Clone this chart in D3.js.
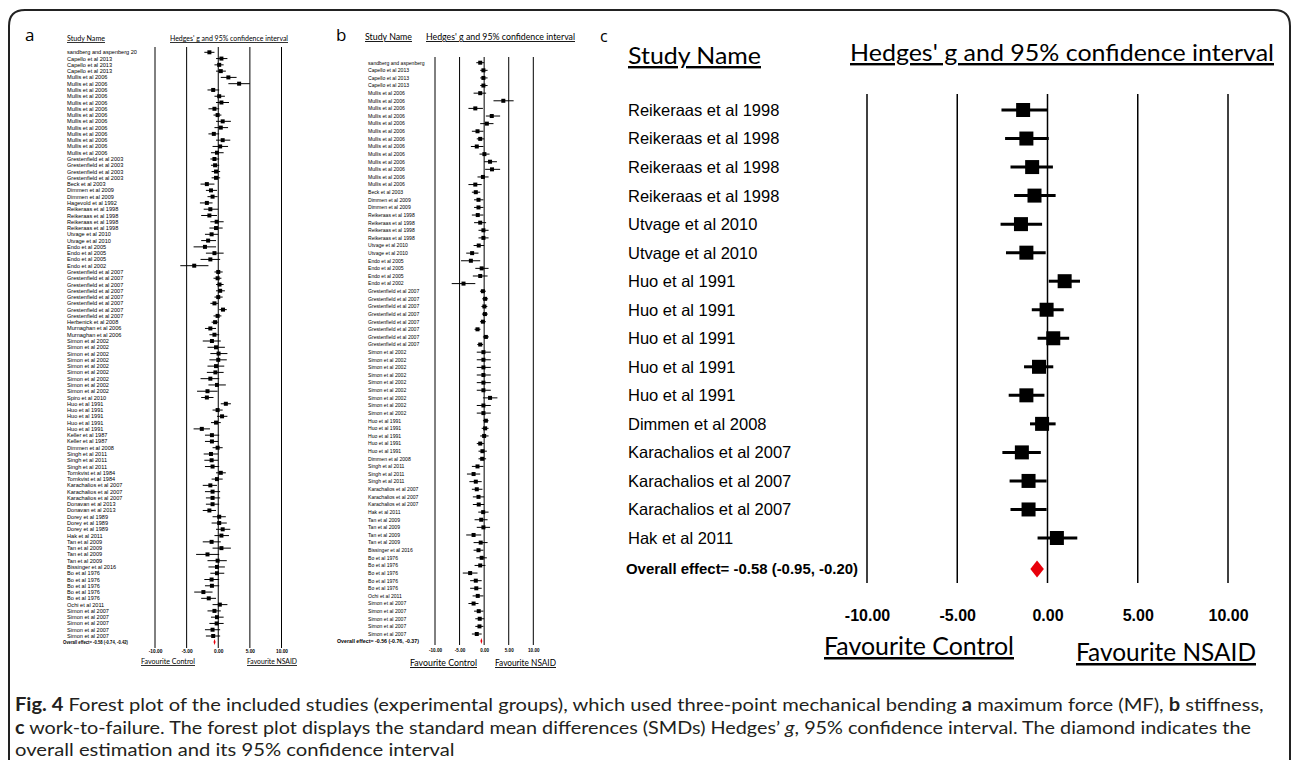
<!DOCTYPE html>
<html>
<head>
<meta charset="utf-8">
<script src="https://cdn.jsdelivr.net/npm/d3@7"></script>
<style>
  body { margin: 0; background: #fff; }
  svg { display: block; }
</style>
</head>
<body>
<div id="fig"></div>
<script>

// ---- shared axis ticks ----
var tickValues = [-10, -5, 0, 5, 10];

// ---- panel a: maximum force ----
var aNames = [
  "sandberg and aspenberg 20",
  "Capello et al 2013", "Capello et al 2013", "Capello et al 2013",
  "Mullis et al 2006", "Mullis et al 2006", "Mullis et al 2006", "Mullis et al 2006", "Mullis et al 2006",
  "Mullis et al 2006", "Mullis et al 2006", "Mullis et al 2006", "Mullis et al 2006", "Mullis et al 2006",
  "Mullis et al 2006", "Mullis et al 2006", "Mullis et al 2006",
  "Grestenfield et al 2003", "Grestenfield et al 2003", "Grestenfield et al 2003", "Grestenfield et al 2003",
  "Beck et al 2003", "Dimmen et al 2009", "Dimmen et al 2009", "Hagevold et al 1992",
  "Reikeraas et al 1998", "Reikeraas et al 1998", "Reikeraas et al 1998", "Reikeraas et al 1998",
  "Utvage et al 2010", "Utvage et al 2010",
  "Endo et al 2005", "Endo et al 2005", "Endo et al 2005", "Endo et al 2002",
  "Grestenfield et al 2007", "Grestenfield et al 2007", "Grestenfield et al 2007", "Grestenfield et al 2007",
  "Grestenfield et al 2007", "Grestenfield et al 2007", "Grestenfield et al 2007", "Grestenfield et al 2007",
  "Herbenick et al 2008", "Murnaghan et al 2006", "Murnaghan et al 2006",
  "Simon et al 2002", "Simon et al 2002", "Simon et al 2002", "Simon et al 2002", "Simon et al 2002",
  "Simon et al 2002", "Simon et al 2002", "Simon et al 2002", "Simon et al 2002",
  "Spiro et al 2010",
  "Huo et al 1991", "Huo et al 1991", "Huo et al 1991", "Huo et al 1991", "Huo et al 1991",
  "Keller et al 1987", "Keller et al 1987", "Dimmen et al 2008",
  "Singh et al 2011", "Singh et al 2011", "Singh et al 2011",
  "Tornkvist et al 1984", "Tornkvist et al 1984",
  "Karachalios et al 2007", "Karachalios et al 2007", "Karachalios et al 2007",
  "Donavan et al 2013", "Donavan et al 2013",
  "Dorey et al 1989", "Dorey et al 1989", "Dorey et al 1989", "Hak et al 2011",
  "Tan et al 2009", "Tan et al 2009", "Tan et al 2009", "Tan et al 2009", "Bissinger et al 2016",
  "Bo et al 1976", "Bo et al 1976", "Bo et al 1976", "Bo et al 1976", "Bo et al 1976",
  "Ochi et al 2011",
  "Simon et al 2007", "Simon et al 2007", "Simon et al 2007", "Simon et al 2007", "Simon et al 2007"
];
var aEst = [
  -1.4, 0.5, 0.15, 0.4, 1.6, 3.3, -0.8, 0.15, 0.5, -0.6, -0.1, 0.7, 0.4, -0.7, 0.7, 0.3, -0.2,
  -0.6, -0.5, -0.35, -0.35, -1.8, -1.15, -0.9, -1.8, -1.25, -1.4, -0.25, -0.35, -1.05, -1.6, -2.1, -0.6, -1.25, -3.8,
  0, -0.1, 0.2, 0.3, 0, -0.6, 0.75, -0.1, -0.5, -1.25, -0.6,
  -1.0, -0.35, 0.05, 0, -0.35, -0.45, -1.25, -0.2, -1.7, -1.8,
  1.2, -0.1, 0.6, -0.35, -2.6, -1.0, -1.0, -0.1, -1.15, -1.05, -0.9, 0.4, -0.2, -1.25, -0.9, -0.9, -0.9, -1.4,
  0.15, 0.15, 0.7, 0.5, -1.05, 0.5, -1.7, -0.1, -0.2, -0.2, -1.05, -1.0, -2.35, -1.5, 0.25, -0.6, -0.2, -0.25, -0.9, -0.8
];
var aLow = [
  -2.2, -0.35, -0.6, -0.35, 0.4, 1.6, -1.7, -0.6, -0.35, -1.55, -0.75, -0.35, -0.6, -1.55, -0.35, -0.9, -1.15,
  -1.25, -1.15, -1.05, -1.05, -2.8, -1.95, -1.7, -2.9, -2.3, -2.7, -1.25, -1.4, -2.1, -2.7, -3.9, -1.95, -2.8, -6.0,
  -0.6, -0.75, -0.35, -0.35, -0.6, -1.25, 0.15, -0.75, -1.05, -2.1, -1.4,
  -2.45, -1.7, -1.25, -1.4, -1.7, -1.8, -2.8, -1.55, -3.35, -2.7,
  0.4, -0.9, -0.2, -1.15, -3.9, -2.1, -2.1, -0.9, -2.3, -2.2, -2.1, -0.35, -1.05, -2.45, -2.1, -1.95, -1.95, -2.45,
  -0.9, -1.05, -0.35, -0.6, -2.45, -0.9, -3.5, -1.7, -1.55, -1.25, -2.2, -2.1, -3.8, -2.7, -0.9, -1.7, -1.15, -1.4, -2.1, -1.95
];
var aHigh = [
  -0.6, 1.45, 0.85, 1.2, 2.9, 5.0, 0.15, 1.05, 1.7, 0.15, 0.5, 2.0, 1.55, 0.15, 1.9, 1.55, 0.85,
  0.15, 0.15, 0.3, 0.3, -0.6, -0.2, -0.1, -0.9, 0, -0.2, 0.85, 0.7, 0, -0.35, -0.35, 0.85, 0.3, -1.55,
  0.7, 0.5, 0.85, 1.05, 0.7, 0, 1.35, 0.5, 0, -0.35, 0.15,
  0.4, 1.05, 1.45, 1.35, 0.95, 0.85, 0.15, 1.2, -0.1, -0.75,
  2.0, 0.7, 1.45, 0.4, -1.3, 0.15, 0, 0.7, 0, 0, 0.15, 1.2, 0.7, -0.2, 0.3, 0.3, 0.15, -0.35,
  1.2, 1.35, 1.9, 1.7, 0.4, 2.0, 0.15, 1.35, 1.05, 0.95, 0.15, 0.15, -0.9, -0.35, 1.45, 0.4, 0.85, 0.85, 0.3, 0.3
];
var aOverall = [-0.58, -0.74, -0.42];

// ---- panel b: stiffness ----
var bNames = [
  "sandberg and aspenberg",
  "Capello et al 2013", "Capello et al 2013", "Capello et al 2013",
  "Mullis et al 2006", "Mullis et al 2006", "Mullis et al 2006", "Mullis et al 2006", "Mullis et al 2006",
  "Mullis et al 2006", "Mullis et al 2006", "Mullis et al 2006", "Mullis et al 2006", "Mullis et al 2006",
  "Mullis et al 2006", "Mullis et al 2006", "Mullis et al 2006",
  "Beck et al 2003", "Dimmen et al 2009", "Dimmen et al 2009",
  "Reikeraas et al 1998", "Reikeraas et al 1998", "Reikeraas et al 1998", "Reikeraas et al 1998",
  "Utvage et al 2010", "Utvage et al 2010",
  "Endo et al 2005", "Endo et al 2005", "Endo et al 2005", "Endo et al 2002",
  "Grestenfield et al 2007", "Grestenfield et al 2007", "Grestenfield et al 2007", "Grestenfield et al 2007",
  "Grestenfield et al 2007", "Grestenfield et al 2007", "Grestenfield et al 2007", "Grestenfield et al 2007",
  "Simon et al 2002", "Simon et al 2002", "Simon et al 2002", "Simon et al 2002", "Simon et al 2002",
  "Simon et al 2002", "Simon et al 2002", "Simon et al 2002", "Simon et al 2002",
  "Huo et al 1991", "Huo et al 1991", "Huo et al 1991", "Huo et al 1991", "Huo et al 1991",
  "Dimmen et al 2008",
  "Singh et al 2011", "Singh et al 2011", "Singh et al 2011",
  "Karachalios et al 2007", "Karachalios et al 2007", "Karachalios et al 2007",
  "Hak et al 2011",
  "Tan et al 2009", "Tan et al 2009", "Tan et al 2009", "Tan et al 2009", "Bissinger et al 2016",
  "Bo et al 1976", "Bo et al 1976", "Bo et al 1976", "Bo et al 1976", "Bo et al 1976",
  "Ochi et al 2011",
  "Simon et al 2007", "Simon et al 2007", "Simon et al 2007", "Simon et al 2007", "Simon et al 2007"
];
var bEst = [
  -0.8, -0.15, -0.15, -0.15,
  -0.8, 3.9, -1.8, 1.55, 0.55, -1.35, -0.8, -1.5, 0.05, 1.2, 1.6, -0.25, -1.8,
  -1.7, -1.15, -1.15, -1.3, -0.8, -0.15, -0.15, -1.1, -2.45, -2.7, -0.5, -0.8, -4.2,
  -0.25, 0.2, 0.05, 0.15, -0.25, -1.35, 0.35, -0.8,
  -0.15, -0.15, -0.15, -0.15, -0.15, -0.15, 1.2, -0.15, -0.15,
  0.35, 0.2, 0, -0.8, -0.35, -0.4, -1.35, -2.15, -1.7, -1.5, -1.15, -1.1, -0.2,
  -0.6, -0.15, -2.15, -0.7, -1.15, -0.5, -0.8, -2.85, -1.7, -1.6, -1.3, -2.15, -1.1, -0.9, -0.95, -1.5
];
var bLow = [
  -1.6, -0.8, -0.8, -0.8,
  -2.15, 1.9, -3.2, 0.35, -0.8, -2.5, -1.5, -2.7, -0.95, 0, 0.2, -1.35, -3.2,
  -2.5, -2.05, -2.05, -2.5, -2.05, -1.15, -1.15, -2.15, -3.65, -4.7, -1.8, -2.3, -6.6,
  -0.85, -0.4, -0.55, -0.45, -0.85, -1.95, -0.25, -1.4,
  -1.5, -1.5, -1.5, -1.5, -1.5, -1.5, -0.25, -1.5, -1.5,
  -0.25, -0.5, -0.8, -1.5, -1.15, -1.15, -2.5, -3.5, -3.0, -2.5, -2.3, -2.3, -1.2,
  -1.95, -1.5, -3.65, -2.15, -2.15, -1.6, -1.95, -4.35, -2.85, -2.85, -2.35, -3.2, -2.05, -1.8, -1.8, -2.5
];
var bHigh = [
  0, 0.7, 0.7, 0.7,
  0.4, 6.0, -0.25, 3.25, 1.9, -0.15, 0, -0.15, 1.1, 2.6, 3.25, 0.9, -0.5,
  -0.8, -0.15, -0.15, -0.15, 0.4, 0.9, 0.9, 0, -1.15, -0.8, 0.9, 0.7, -1.8,
  0.35, 0.8, 0.65, 0.75, 0.35, -0.75, 0.95, -0.2,
  1.35, 1.35, 1.35, 1.35, 1.35, 1.35, 2.7, 1.35, 1.35,
  0.9, 0.9, 0.9, 0, 0.55, 0.4, -0.15, -0.8, -0.5, -0.35, 0, 0, 0.9,
  0.7, 1.2, -0.6, 0.7, -0.15, 0.55, 0.25, -1.35, -0.5, -0.5, -0.15, -1.15, -0.15, 0, -0.15, -0.5
];
var bOverall = [-0.56, -0.76, -0.37];

// ---- panel c: work-to-failure ----
var cNames = [
  "Reikeraas et al 1998", "Reikeraas et al 1998", "Reikeraas et al 1998", "Reikeraas et al 1998",
  "Utvage et al 2010", "Utvage et al 2010",
  "Huo et al 1991", "Huo et al 1991", "Huo et al 1991", "Huo et al 1991", "Huo et al 1991",
  "Dimmen et al 2008",
  "Karachalios et al 2007", "Karachalios et al 2007", "Karachalios et al 2007",
  "Hak et al 2011"
];
var cEst  = [-1.35, -1.17, -0.85, -0.72, -1.47, -1.17, 0.95, -0.05, 0.32, -0.47, -1.17, -0.3, -1.42, -1.05, -1.05, 0.52];
var cLow  = [-2.55, -2.35, -2.05, -1.85, -2.6, -2.3, 0.07, -0.87, -0.55, -1.3, -2.15, -0.97, -2.5, -2.1, -2.05, -0.55];
var cHigh = [0, 0.07, 0.3, 0.45, -0.3, -0.1, 1.8, 0.9, 1.2, 0.32, -0.17, 0.45, -0.37, -0.05, -0.05, 1.65];
var cOverall = [-0.58, -0.95, -0.20];

var svg = d3.select("#fig").append("svg")
    .attr("width", 1292)
    .attr("height", 760);

// frame round the whole figure (bottom edge falls outside the picture)
svg.append("path")
    .attr("d", "M9,790 V26 Q9,10 25,10 H1274 Q1290,10 1290,26 V790")
    .attr("fill", "none")
    .attr("stroke", "#222")
    .attr("stroke-width", 2);

var titleFont = "Lato, 'Open Sans', sans-serif";
var nameFont = "'Liberation Sans', Arial, sans-serif";

function fmt(v) { return v.toFixed(2); }

// place a text and stretch it to a given width
function label(parent, str, x, y, size, width, opts) {
    opts = opts || {};
    var t = parent.append("text")
        .attr("x", x)
        .attr("y", y)
        .style("font-family", opts.family || titleFont)
        .style("font-size", size + "px")
        .style("font-weight", opts.weight || "normal")
        .attr("fill", opts.fill || "#000")
        .text(str);
    if (opts.underline) t.style("text-decoration", "underline");
    if (width) t.attr("textLength", width).attr("lengthAdjust", "spacingAndGlyphs");
    return t;
}

// Draws one forest plot panel
function drawForest(p) {
    var g = svg.append("g");

    var x = d3.scaleLinear()
        .domain([-10, 10])
        .range(p.xRange);

    var y = d3.scalePoint()
        .domain(d3.range(p.names.length))
        .range(p.yRange);

    // reference lines at each tick
    g.selectAll("line.ref")
        .data(tickValues)
        .enter()
        .append("line")
        .attr("x1", function(d) { return x(d); })
        .attr("x2", function(d) { return x(d); })
        .attr("y1", p.lineTop)
        .attr("y2", p.lineBottom)
        .attr("stroke", "#000")
        .attr("stroke-width", p.refWidth);

    // study names
    g.selectAll("text.name")
        .data(p.names)
        .enter()
        .append("text")
        .attr("x", p.nameX)
        .attr("y", function(d, i) { return y(i); })
        .attr("dy", "0.36em")
        .style("font-family", nameFont)
        .style("font-size", p.nameSize + "px")
        .attr("fill", "#000")
        .text(function(d) { return d; });

    var rows = p.est.map(function(e, i) {
        return {est: e, lo: p.lo[i], hi: p.hi[i], i: i};
    });

    // confidence interval whiskers
    g.selectAll("line.ci")
        .data(rows)
        .enter()
        .append("line")
        .attr("x1", function(d) { return x(d.lo); })
        .attr("x2", function(d) { return x(d.hi); })
        .attr("y1", function(d) { return y(d.i); })
        .attr("y2", function(d) { return y(d.i); })
        .attr("stroke", "#000")
        .attr("stroke-width", p.ciWidth);

    // point estimates
    g.selectAll("rect.box")
        .data(rows)
        .enter()
        .append("rect")
        .attr("x", function(d) { return x(d.est) - p.box / 2; })
        .attr("y", function(d) { return y(d.i) - p.box / 2; })
        .attr("width", p.box)
        .attr("height", p.box)
        .attr("fill", "#000");

    // overall effect diamond
    var o = p.overall;
    var dh = p.diamondH / 2;
    g.append("path")
        .attr("d", "M" + x(o[1]) + "," + p.overallY +
                   "L" + x(o[0]) + "," + (p.overallY - dh) +
                   "L" + x(o[2]) + "," + p.overallY +
                   "L" + x(o[0]) + "," + (p.overallY + dh) + "Z")
        .attr("fill", "#e8000b");

    label(g, "Overall effect= " + fmt(o[0]) + " (" + fmt(o[1]) + ", " + fmt(o[2]) + ")",
          p.overallX, p.overallY + p.overallSize * 0.36, p.overallSize, p.overallWidth,
          {family: nameFont, weight: "bold"});

    // x axis labels
    var xAxis = d3.axisBottom(x)
        .tickValues(tickValues)
        .tickFormat(function(d) { return d.toFixed(2); })
        .tickSize(0);

    var ax = g.append("g")
        .attr("transform", "translate(0," + p.tickY + ")")
        .call(xAxis);
    ax.select(".domain").remove();
    ax.selectAll("text")
        .attr("y", 0)
        .attr("dy", "0.36em")
        .attr("fill", "#000")
        .style("font-family", nameFont)
        .style("font-weight", "bold")
        .style("font-size", p.tickSize + "px");

    // headers
    label(g, p.letter, p.letterX, p.letterY, p.letterSize, null, {family: "'Open Sans', sans-serif"});
    label(g, "Study Name", p.studyX, p.headY, p.headSize, p.studyW, {underline: true});
    label(g, "Hedges' g and 95% confidence interval", p.hedgesX, p.hedgesY, p.headSize, p.hedgesW, {underline: true});

    // favour labels
    label(g, "Favourite Control", p.favC[0], p.favC[1], p.favSize, p.favC[2], {underline: true});
    label(g, "Favourite NSAID", p.favN[0], p.favN[1], p.favSize, p.favN[2], {underline: true});
}

drawForest({
    names: aNames, est: aEst, lo: aLow, hi: aHigh, overall: aOverall,
    xRange: [155, 281.5], yRange: [52.3, 636], lineTop: 47, lineBottom: 648,
    refWidth: 1, ciWidth: 1, box: 4, diamondH: 6,
    nameX: 67, nameSize: 5.6,
    overallX: 63, overallY: 642, overallSize: 5.2, overallWidth: 65,
    tickY: 651, tickSize: 4.8,
    letter: "a", letterX: 25, letterY: 41, letterSize: 17,
    studyX: 67, headY: 41, headSize: 8, studyW: 38,
    hedgesX: 170, hedgesY: 41, hedgesW: 118,
    favC: [141, 664, 54], favN: [247, 664, 50], favSize: 8
});

drawForest({
    names: bNames, est: bEst, lo: bLow, hi: bHigh, overall: bOverall,
    xRange: [435, 533.3], yRange: [62.7, 634], lineTop: 57, lineBottom: 645,
    refWidth: 1, ciWidth: 1, box: 4, diamondH: 6,
    nameX: 368, nameSize: 5.1,
    overallX: 337, overallY: 641, overallSize: 5.2, overallWidth: 82,
    tickY: 650, tickSize: 4.6,
    letter: "b", letterX: 336, letterY: 41, letterSize: 17,
    studyX: 365, headY: 40, headSize: 9, studyW: 47,
    hedgesX: 426, hedgesY: 40, hedgesW: 149,
    favC: [410, 666, 67], favN: [495, 666, 61], favSize: 9
});

drawForest({
    names: cNames, est: cEst, lo: cLow, hi: cHigh, overall: cOverall,
    xRange: [867, 1228], yRange: [110, 538], lineTop: 94, lineBottom: 583,
    refWidth: 1.5, ciWidth: 3, box: 14, diamondH: 17,
    nameX: 628, nameSize: 16.5,
    overallX: 626, overallY: 569, overallSize: 15, overallWidth: 232,
    tickY: 615, tickSize: 16,
    letter: "c", letterX: 600, letterY: 42, letterSize: 16,
    studyX: 628, headY: 64, headSize: 24, studyW: 133,
    hedgesX: 850, hedgesY: 61, hedgesW: 424,
    favC: [824, 655, 190], favN: [1076, 661, 180], favSize: 25
});

// ---- caption ----
var cap = svg.append("g")
    .style("font-family", "Lato, 'Open Sans', sans-serif")
    .style("font-size", "18px")
    .attr("fill", "#231f20");

var line1 = cap.append("text");
line1.append("tspan").style("font-weight", "bold").text("Fig. 4");
line1.append("tspan").text(" Forest plot of the included studies (experimental groups), which used three-point mechanical bending ");
line1.append("tspan").style("font-weight", "bold").text("a");
line1.append("tspan").text(" maximum force (MF), ");
line1.append("tspan").style("font-weight", "bold").text("b");
line1.append("tspan").text(" stiffness,");

var line2 = cap.append("text");
line2.append("tspan").style("font-weight", "bold").text("c");
line2.append("tspan").text(" work-to-failure. The forest plot displays the standard mean differences (SMDs) Hedges\u2019 ");
line2.append("tspan").style("font-style", "italic").text("g");
line2.append("tspan").text(", 95% confidence interval. The diamond indicates the");

var line3 = cap.append("text")
    .text("overall estimation and its 95% confidence interval");

// stretch each caption line horizontally to the width it has in the original
[[line1, 711, 1250], [line2, 733.5, 1237], [line3, 756, 440]].forEach(function(l) {
    var w = l[0].node().getComputedTextLength();
    l[0].attr("transform", "translate(15," + l[1] + ") scale(" + (l[2] / w) + ",1)");
});

</script>
</body>
</html>
